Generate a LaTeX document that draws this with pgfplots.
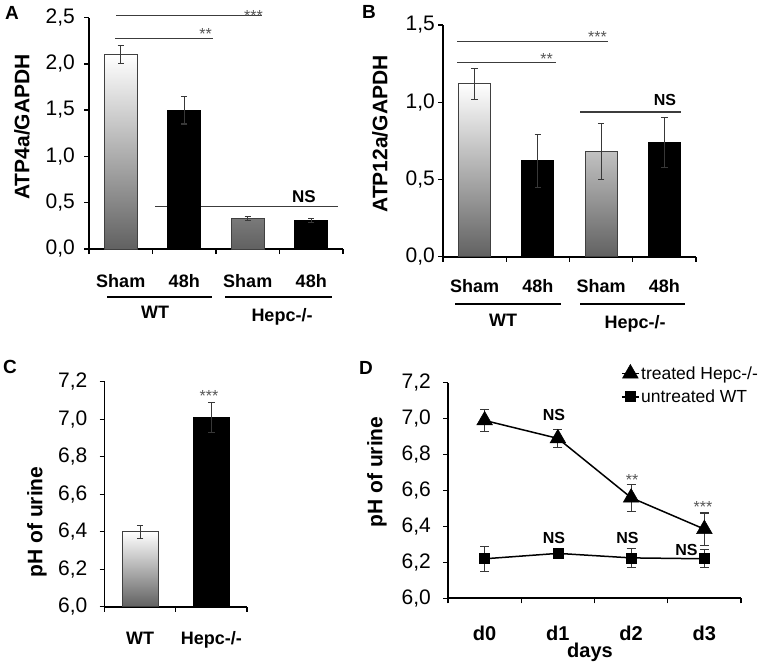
\documentclass[border=0pt]{standalone}
\usepackage{graphicx}
\usepackage{pgfplots}
\pgfplotsset{compat=1.18}
\usepackage{fontspec}
\setmainfont{Liberation Sans}
\newcommand{\fs}[1]{\fontsize{#1}{#1}\selectfont}
\definecolor{sigc}{HTML}{3C3C3C}
\definecolor{errc}{HTML}{383838}
\definecolor{astc}{HTML}{555555}
\pgfplotsset{
  panel/.style={
    scale only axis, anchor=south west,
    axis x line=bottom, axis y line=left,
    axis line style={-, line width=1.8pt, black},
    tick align=outside,
    major tick length=5pt, minor tick length=5pt,
    tick style={line width=1.4pt, black},
    major x tick style={draw=none},
    /pgf/number format/assume math mode=true,
    yticklabel style={font=\fs{21}, inner sep=0pt},
    xticklabel style={font=\bfseries\fs{18}, inner sep=0pt, anchor=base},
    clip mode=individual,
  },
  errs/.style={
    error bars/y dir=both, error bars/y explicit,
    error bars/error bar style={line width=1.1pt, errc},
    error bars/error mark options={rotate=90, mark size=#1, line width=1.1pt, errc}},
  shambar/.style={ybar, bar width=33pt, bar shift=0pt, draw=black!75, line width=1pt,
    top color=white, bottom color=black!62, errs=3.2pt},
  blkbar/.style={ybar, bar width=33pt, bar shift=0pt, draw=black, fill=black, line width=1pt, errs=3.2pt},
}
\begin{document}
\begin{tikzpicture}
\useasboundingbox (0,0) rectangle (765pt,-667pt);
% line behind bars in A
\draw[sigc, line width=1.3pt] (155pt,-206.7pt) -- (338pt,-206.7pt);
% ---------------- Panel A
\begin{axis}[panel, at={(89pt,-249pt)}, width=254pt, height=231.5pt,
  xmin=0.5, xmax=4.5, ymin=0, ymax=2.5,
  xtick={1,2,3,4}, xticklabels={Sham,48h,Sham,48h},
  minor xtick={0.5,1.5,2.5,3.5,4.5},
  ytick={0,0.5,1,1.5,2,2.5}, yticklabels={{0,0},{0,5},{1,0},{1,5},{2,0},{2,5}},
  yticklabel style={xshift=-9pt}, xticklabel style={yshift=-33pt}]
\addplot[shambar] coordinates {(1,2.10) +- (0,0.10) (3,0.33) +- (0,0.02)};
\addplot[blkbar] coordinates {(2,1.50) +- (0,0.15) (4,0.31) +- (0,0.02)};
\end{axis}
% ---------------- Panel B
\begin{axis}[panel, at={(443pt,-256.7pt)}, width=253pt, height=231.7pt,
  xmin=0.5, xmax=4.5, ymin=0, ymax=1.5,
  xtick={1,2,3,4}, xticklabels={Sham,48h,Sham,48h},
  minor xtick={0.5,1.5,2.5,3.5,4.5},
  ytick={0,0.5,1,1.5}, yticklabels={{0,0},{0,5},{1,0},{1,5}},
  yticklabel style={xshift=-3pt}, xticklabel style={yshift=-31pt}]
\addplot[shambar, bar width=32pt] coordinates {(1,1.12) +- (0,0.10) (3,0.68) +- (0,0.18)};
\addplot[blkbar, bar width=32pt] coordinates {(2,0.62) +- (0,0.17) (4,0.74) +- (0,0.16)};
\end{axis}
% ---------------- Panel C
\begin{axis}[panel, at={(104.5pt,-606.7pt)}, width=142.5pt, height=225pt,
  xmin=0.5, xmax=2.5, ymin=0, ymax=1.2, y filter/.expression={y-6},
  xtick={1,2}, xticklabels={WT,Hepc-/-},
  minor xtick={0.5,1.5,2.5},
  ytick={0,0.2,0.4,0.6,0.8,1.0,1.2}, yticklabels={{6,0},{6,2},{6,4},{6,6},{6,8},{7,0},{7,2}},
  yticklabel style={xshift=-12pt}, xticklabel style={yshift=-33pt}]
\addplot[shambar, bar width=36pt] coordinates {(1,6.40) +- (0,0.035)};
\addplot[blkbar, bar width=36pt] coordinates {(2,7.01) +- (0,0.08)};
\end{axis}
% ---------------- Panel D
\begin{axis}[panel, at={(448pt,-598.3pt)}, width=293pt, height=215.6pt,
  xmin=0.5, xmax=4.5, ymin=6, ymax=7.2,
  xtick={1,2,3,4}, xticklabels={d0,d1,d2,d3},
  minor xtick={0.5,1.5,2.5,3.5,4.5},
  ytick={6,6.2,6.4,6.6,6.8,7,7.2}, yticklabels={{6,0},{6,2},{6,4},{6,6},{6,8},{7,0},{7,2}},
  yticklabel style={xshift=-12pt}, xticklabel style={font=\bfseries\fs{20}, yshift=-37pt},
  legend style={at={(0.59,1.085)}, anchor=north west, draw=none, fill=none,
    font=\fs{17.5}, inner sep=0pt, row sep=6pt, nodes={inner sep=1.5pt}},
  legend cell align=left]
\addplot[black, line width=1.5pt, mark=triangle*, mark size=9pt,
  mark options={line width=0.6pt}, errs=4.5pt]
  coordinates {(1,6.99) +- (0,0.06) (2,6.89) +- (0,0.05) (3,6.56) +- (0,0.075) (4,6.385) +- (0,0.09)};
\addlegendentry{treated Hepc-/-}
\addplot[black, line width=1.5pt, mark=square*, mark size=5pt,
  mark options={line width=0.6pt}, errs=4.5pt]
  coordinates {(1,6.22) +- (0,0.07) (2,6.25) +- (0,0.012) (3,6.225) +- (0,0.052) (4,6.22) +- (0,0.05)};
\addlegendentry{untreated WT}
\end{axis}
% ---------------- annotations (absolute, 1pt = 1px)
\begin{scope}[font=\bfseries\fs{19}]
\node at (12pt,-13pt) {A};
\node at (369pt,-12pt) {B};
\node at (10pt,-367pt) {C};
\node at (366pt,-368pt) {D};
\end{scope}
\begin{scope}[font=\bfseries\fs{21}, inner sep=0pt]
\node[rotate=90] at (22pt,-127pt) {ATP4a/GAPDH};
\node[rotate=90] at (380pt,-134pt) {ATP12a/GAPDH};
\node[rotate=90] at (37pt,-522pt) {pH of urine};
\node[rotate=90] at (377pt,-472pt) {pH of urine};
\end{scope}
% significance lines
\begin{scope}[sigc, line width=1.3pt]
\draw (116pt,-15.7pt) -- (262pt,-15.7pt);
\draw (115pt,-38.3pt) -- (213pt,-38.3pt);
\draw (457pt,-41.7pt) -- (608pt,-41.7pt);
\draw (457pt,-62.7pt) -- (556pt,-62.7pt);
\draw (580pt,-112pt) -- (681pt,-112pt);
\end{scope}
\begin{scope}[astc, font=\fs{16}, inner sep=0pt]
\node[anchor=base east] at (263pt,-21.8pt) {***};
\node[anchor=base east] at (212pt,-39.8pt) {**};
\node[anchor=base east] at (607pt,-42.8pt) {***};
\node[anchor=base east] at (553pt,-64.8pt) {**};
\node[anchor=base] at (209pt,-401.8pt) {***};
\node[anchor=base] at (632pt,-485.8pt) {**};
\node[anchor=base] at (703pt,-512.8pt) {***};
\end{scope}
\begin{scope}[font=\bfseries\fs{16}, inner sep=0pt]
\node[anchor=base, font=\bfseries\fs{17}] at (304pt,-202pt) {NS};
\node[anchor=base] at (665pt,-105pt) {NS};
\node[anchor=base] at (554pt,-420pt) {NS};
\node[anchor=base] at (554pt,-543pt) {NS};
\node[anchor=base] at (627.5pt,-543pt) {NS};
\node[anchor=base] at (686.5pt,-555pt) {NS};
\end{scope}
% group underlines and labels
\begin{scope}[line width=2pt]
\draw (107pt,-296.7pt) -- (212pt,-296.7pt);
\draw (225pt,-296.7pt) -- (332pt,-296.7pt);
\draw (455pt,-304pt) -- (561pt,-304pt);
\draw (580pt,-304pt) -- (685pt,-304pt);
\end{scope}
\begin{scope}[font=\bfseries\fs{18}, inner sep=0pt]
\node[anchor=base] at (155pt,-318pt) {WT};
\node[anchor=base] at (282pt,-321pt) {Hepc-/-};
\node[anchor=base] at (503pt,-326pt) {WT};
\node[anchor=base] at (635pt,-328pt) {Hepc-/-};
\node[anchor=base, font=\bfseries\fs{20}] at (590pt,-657pt) {days};
\end{scope}
\end{tikzpicture}
\end{document}
